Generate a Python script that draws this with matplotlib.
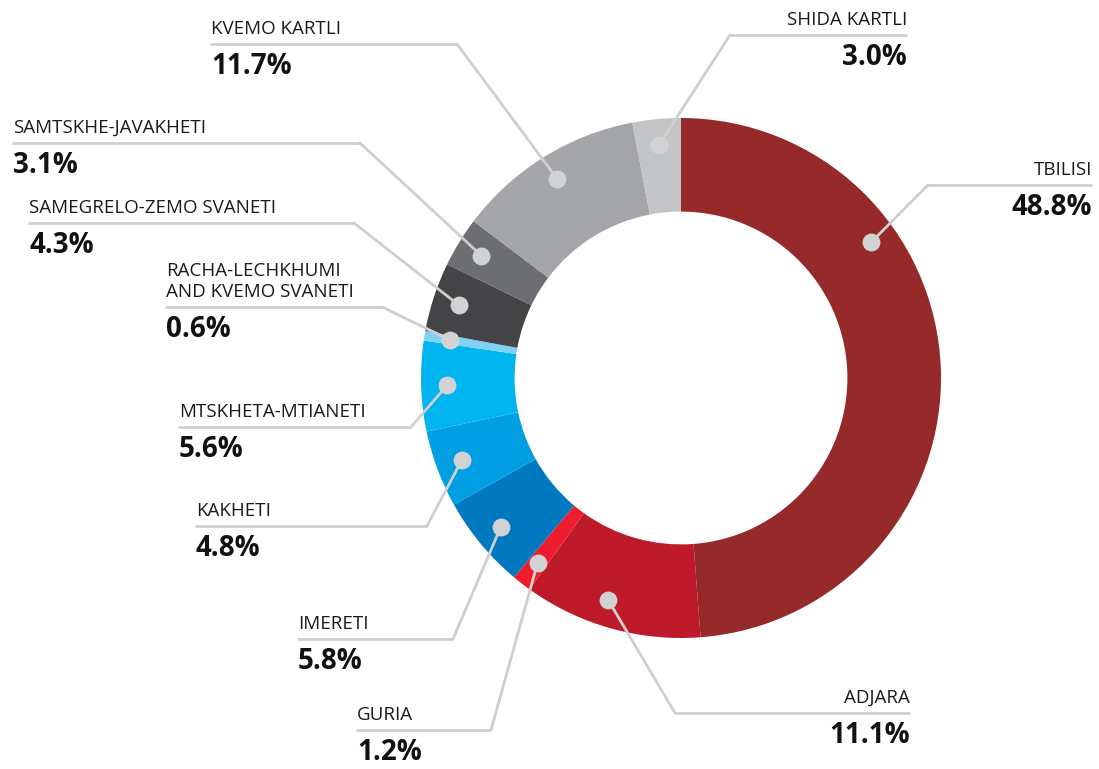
import numpy as np
import matplotlib.pyplot as plt

regions = ["TBILISI", "ADJARA", "GURIA", "IMERETI", "KAKHETI", "MTSKHETA-MTIANETI",
           "RACHA-LECHKHUMI\nAND KVEMO SVANETI", "SAMEGRELO-ZEMO SVANETI",
           "SAMTSKHE-JAVAKHETI", "KVEMO KARTLI", "SHIDA KARTLI"]
shares = [48.8, 11.1, 1.2, 5.8, 4.8, 5.6, 0.6, 4.3, 3.1, 11.7, 3.0]
colors = ["#962a2b", "#be1a2a", "#ed1c2e", "#0079c1", "#009fe3", "#00b5ef",
          "#7fd1f5", "#444446", "#6d6e71", "#a4a5a8", "#c3c4c6"]

# label layout: (underline y, x start, x end, elbow side, text align, dot position in slice)
layout = [
    (185, 928, 1092, "left", "right", 0.31),
    (713, 675, 910, "left", "right", 0.56),
    (730, 356, 491, "right", "left", 0.5),
    (639, 297, 453, "right", "left", 0.5),
    (526, 195, 427, "right", "left", 0.5),
    (427, 178, 411, "right", "left", 0.5),
    (307, 165, 382, "right", "left", 0.5),
    (223, 28, 354, "right", "left", 0.5),
    (143, 12, 360, "right", "left", 0.5),
    (44, 210, 457, "right", "left", 0.5),
    (35, 730, 907, "left", "right", 0.5),
]

cx, cy, R = 681, 378, 260
line_col = "#cfcfcf"

fig = plt.figure(figsize=(10.99, 7.69), dpi=100)
ax = fig.add_axes([0, 0, 1, 1])

wedges, _ = ax.pie(shares, colors=colors, startangle=-90, counterclock=True,
                   radius=R, center=(cx, cy),
                   wedgeprops=dict(width=R * 0.36, edgecolor="none", linewidth=0))

ax.set_xlim(0, 1099)
ax.set_ylim(769, 0)
ax.set_aspect("auto")
ax.axis("off")

for w, name, val, (uy, x0, x1, side, ha, frac) in zip(wedges, regions, shares, layout):
    ang = np.deg2rad(w.theta1 + frac * (w.theta2 - w.theta1))
    dx = cx + 0.9 * R * np.cos(ang)
    dy = cy + 0.9 * R * np.sin(ang)
    elbow = x0 if side == "left" else x1
    ax.plot([x0, x1], [uy, uy], color=line_col, lw=2, solid_capstyle="butt", zorder=3)
    ax.plot([elbow, dx], [uy, dy], color=line_col, lw=2, zorder=3)
    ax.scatter([dx], [dy], s=165, color="#d1d2d4", zorder=4, linewidths=0)
    tx = x0 + 1 if ha == "left" else x1
    ax.text(tx, uy - 10, name, ha=ha, va="baseline", fontsize=13.5,
            family="Open Sans", color="#1a1a1a", linespacing=1.2)
    ax.text(tx, uy + 30, f"{val:.1f}%", ha=ha, va="baseline", fontsize=20,
            family="Open Sans", fontweight="bold", color="#111111")

fig.savefig("out.png", dpi=100)
